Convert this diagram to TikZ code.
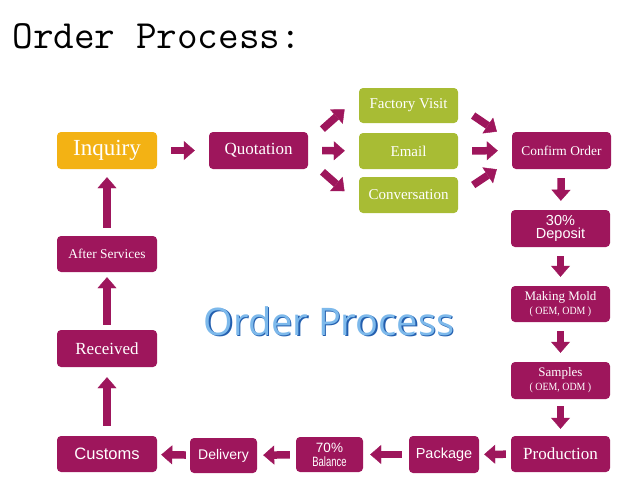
\documentclass[tikz,border=0pt]{standalone}
\usepackage{fontspec}
\usepackage{graphicx}
\setmainfont{Liberation Serif}
\setsansfont{Liberation Sans}
\newfontfamily\segoe{Open Sans}
\usetikzlibrary{arrows.meta}
\definecolor{plum}{RGB}{158,22,92}
\definecolor{amber}{RGB}{243,178,20}
\definecolor{leaf}{RGB}{168,188,52}
\definecolor{skyfill}{RGB}{125,185,235}
\definecolor{skyedge}{RGB}{35,95,175}
\newcommand\fs[1]{\fontsize{#1}{#1}\selectfont}
\begin{document}
\begin{tikzpicture}[x=1pt,y=-1pt,line join=round,
	box/.style={fill=plum,text=white,rounded corners=4pt,minimum width=99pt,minimum height=37pt,inner sep=1pt,align=center},
	blk/.style={plum,line width=7.5pt,-{Triangle[length=11pt,width=19pt,line width=0.4pt]},shorten <=#1,shorten >=#1},
	blk/.default=7pt]
	\useasboundingbox (0,0) rectangle (633,498);
	\node[anchor=base west,font=\ttfamily\fs{40}] (title) at (9,48) {Order Process:};
	% top row
	\node[box,fill=amber,font=\fs{23},minimum width=100pt] (inq) at (107,150.5) {Inquiry};
	\node[box,font=\fs{17}] (quot) at (258.5,150.5) {Quotation};
	\node[box,fill=leaf,font=\fs{15},minimum height=35pt] (fvisit) at (408.5,105.5) {Factory Visit};
	\node[box,fill=leaf,font=\fs{15},minimum height=36pt] (email) at (408.5,151) {Email};
	\node[box,fill=leaf,font=\fs{15},minimum height=36pt] (conv) at (408.5,195) {Conversation};
	\node[box,font=\fs{13.4}] (conf) at (561.5,150.5) {Confirm Order};
	% right column
	\node[box,font=\sffamily\fs{14.5}] (dep) at (560.5,228.5) {30\%\\[-1.5pt]Deposit};
	\node[box,font=\fs{13},minimum height=36pt] (mold) at (560.5,304) {Making Mold\\[1pt]{\fs{11}\scalebox{0.9}[1]{( OEM, ODM )}}};
	\node[box,font=\fs{13}] (samp) at (560.5,380.5) {Samples\\[1pt]{\fs{11}\scalebox{0.9}[1]{( OEM, ODM )}}};
	\node[box,font=\fs{17},minimum height=36pt] (prod) at (560.5,454) {Production};
	% bottom row
	\node[box,font=\sffamily\fs{14.5},minimum width=70pt] (pack) at (444,454.5) {Package};
	\node[box,font=\sffamily\fs{13.5},minimum width=67pt,minimum height=35pt] (bal) at (329.5,454.5) {70\%\\[0.5pt]\scalebox{0.7}[1]{Balance}};
	\node[box,font=\sffamily\fs{14},minimum width=67pt,minimum height=35pt] (deliv) at (223.5,455.5) {Delivery};
	\node[box,font=\sffamily\fs{16.5},minimum width=100pt,minimum height=36pt] (cust) at (107,454) {Customs};
	% left column
	\node[box,font=\fs{17},minimum width=100pt] (recv) at (107,348.5) {Received};
	\node[box,font=\fs{13.4},minimum width=100pt,minimum height=36pt] (after) at (107,254) {After Services};
	% centre label
	\node[font=\segoe\fs{38},text=skyedge] (bigshade) at (330.5,322.5) {Order Process};
	\node[font=\segoe\fs{38},text=skyfill] (big) at ([xshift=-1.5pt,yshift=1.5pt]bigshade.center) {Order Process};
	% arrows
	\foreach \a/\b in {inq/quot,quot/email,email/conf} \draw[blk=14pt] (\a) -- (\b);
	\draw[blk=19pt] (quot.10) -- (fvisit.170);
	\draw[blk=19pt] (quot.-10) -- (conv.-170);
	\draw[blk=18pt] (fvisit.east) -- (conf.170);
	\draw[blk=18pt] (conv.east) -- (conf.-170);
	\foreach \a/\b/\s in {conf/dep/9pt,dep/mold/9pt,mold/samp/9pt,samp/prod/7pt,prod/pack/5pt,pack/bal/7pt,bal/deliv/6pt,deliv/cust/4pt,cust/recv/10pt,recv/after/5pt,after/inq/8pt}
		\draw[blk=\s] (\a) -- (\b);
\end{tikzpicture}
\end{document}
